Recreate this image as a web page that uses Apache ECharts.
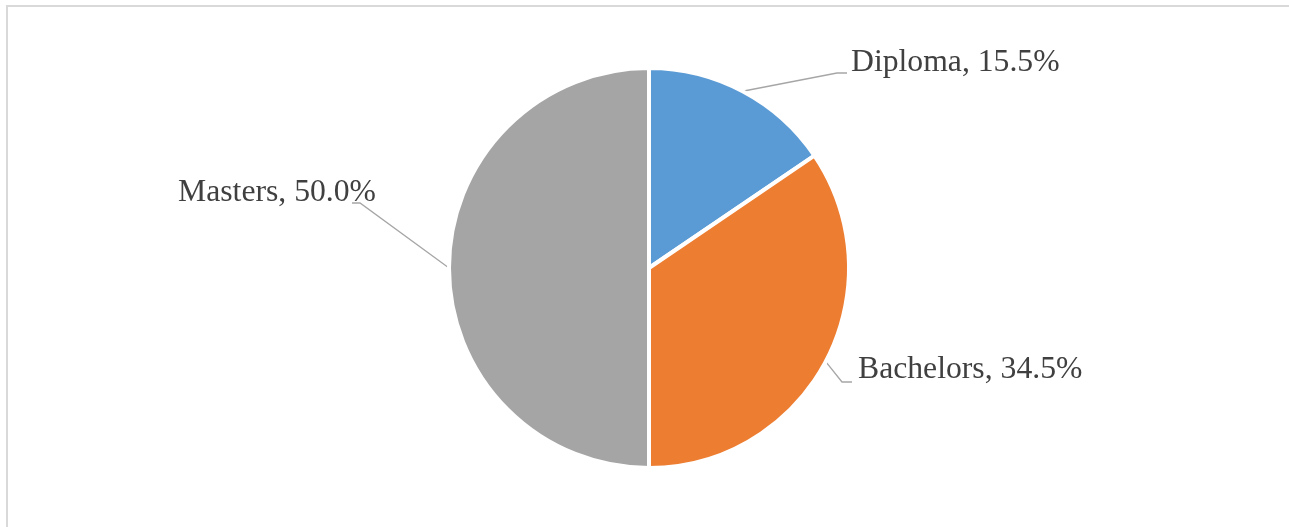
<!DOCTYPE html>
<html>
<head>
<meta charset="utf-8">
<script src="https://cdn.jsdelivr.net/npm/echarts@6/dist/echarts.min.js"></script>
<style>
  html, body { margin: 0; padding: 0; width: 1289px; height: 527px; overflow: hidden; background: #fff; }
  #frame { position: absolute; left: 6px; top: 5px; width: 2000px; height: 2000px; border: 2px solid #d9d9d9; box-sizing: border-box; }
  #chart { position: absolute; left: 0; top: 0; width: 1289px; height: 527px; }
</style>
</head>
<body>
<div id="frame"></div>
<div id="chart"></div>
<script>
const categories = ['Diploma', 'Bachelors', 'Masters'];
const values = [15.5, 34.5, 50.0];
const colors = ['#5B9BD5', '#ED7D31', '#A5A5A5'];

// label anchor (text left edge / vertical middle) and line end placement
const labelAnchors = [
  { x: 851, y: 63, lineEndX: 847, elbowX: 837, lineY: 73 },
  { x: 858, y: 370, lineEndX: 852, elbowX: 842, lineY: 382 },
  { x: 178, y: 193, lineEndX: 352, elbowX: 360, lineY: 203 }
];

const chart = echarts.init(document.getElementById('chart'), null, { renderer: 'canvas' });
chart.setOption({
  animation: false,
  series: [{
    type: 'pie',
    center: [649, 268],
    radius: 200,
    startAngle: 90,
    clockwise: true,
    data: categories.map((c, i) => ({ name: c, value: values[i], itemStyle: { color: colors[i] } })),
    itemStyle: { borderColor: '#fff', borderWidth: 4 },
    label: {
      show: true,
      position: 'outside',
      formatter: p => p.name + ', ' + p.value.toFixed(1) + '%',
      fontFamily: '"Liberation Serif", "Times New Roman", serif',
      fontSize: 31.7,
      color: '#404040'
    },
    labelLine: { show: true, lineStyle: { color: '#a6a6a6', width: 1.3 } },
    labelLayout: function (params) {
      const a = labelAnchors[params.dataIndex];
      const start = params.labelLinePoints ? params.labelLinePoints[0] : [0, 0];
      return {
        x: a.x,
        y: a.y,
        align: 'left',
        verticalAlign: 'middle',
        labelLinePoints: [start, [a.elbowX, a.lineY], [a.lineEndX, a.lineY]]
      };
    }
  }]
});
</script>
</body>
</html>
